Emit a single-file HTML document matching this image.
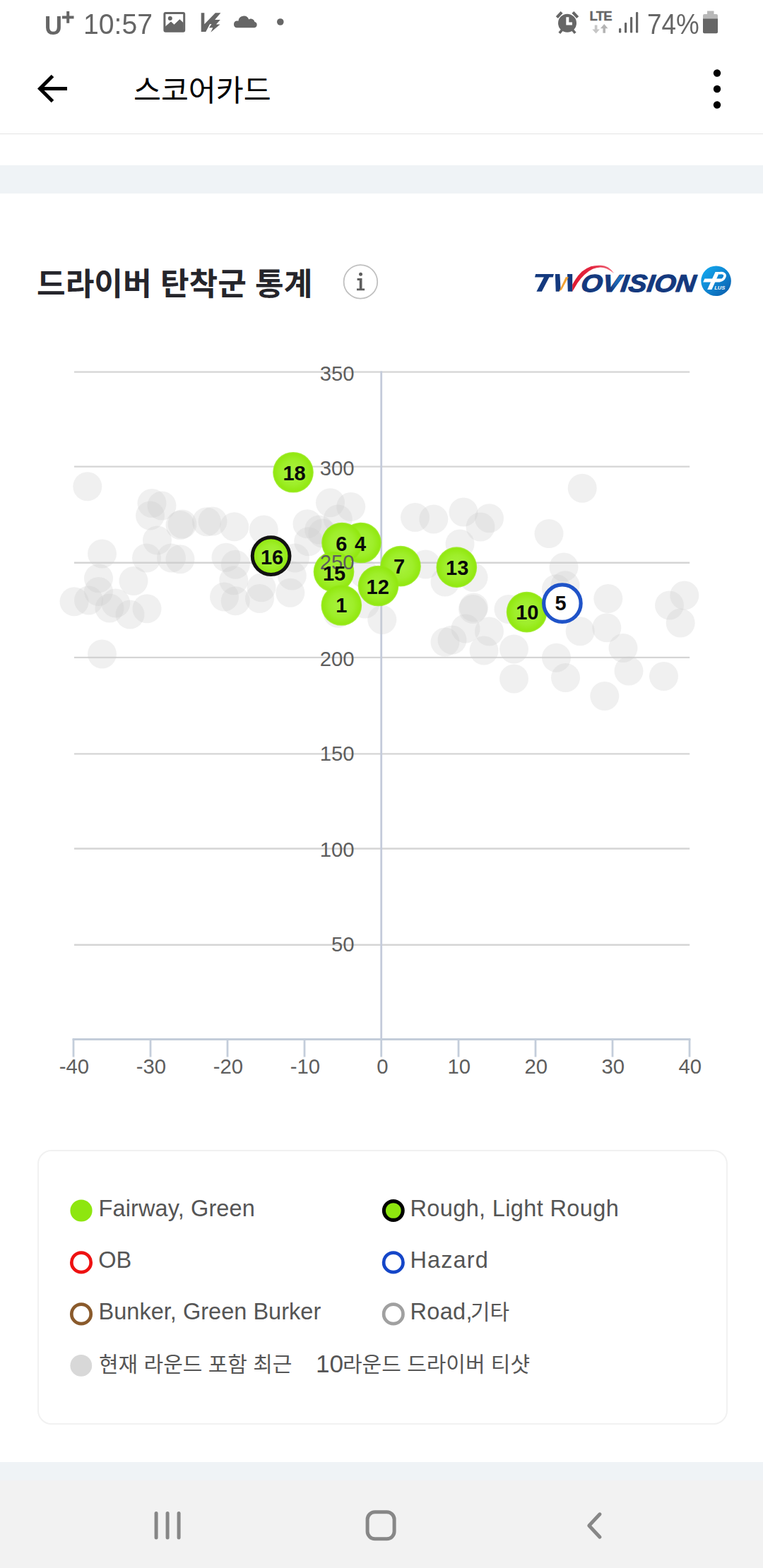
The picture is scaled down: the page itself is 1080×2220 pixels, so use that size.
<!DOCTYPE html>
<html lang="ko">
<head>
<meta charset="utf-8">
<title>스코어카드</title>
<style>
html,body{margin:0;padding:0;}
body{width:1080px;height:2220px;position:relative;overflow:hidden;background:#fff;
 font-family:"Liberation Sans",sans-serif;color:#555;}
.abs{position:absolute;}
.inl{display:inline-block;vertical-align:top;}
svg{display:block;overflow:visible;}
svg text{font-family:"Liberation Sans",sans-serif;}
.sb{color:#666;position:absolute;white-space:nowrap;line-height:1;}
</style>
</head>
<body>

<!-- status bar -->
<div id="statusbar" class="abs" style="left:0;top:0;width:1080px;height:66px;background:#fff;">
  <div class="sb" style="left:63.300px;top:18.700px;font-size:36px;font-weight:bold;transform:scaleX(0.960);transform-origin:0 0;">U</div>
  
  <div class="sb" style="left:117.600px;top:13.500px;font-size:40px;transform:scaleX(0.978);transform-origin:0 0;">10:57</div>
  <svg class="abs" style="left:0;top:0" width="1080" height="66" viewBox="0 0 1080 66">
    <!-- plus -->
    <path fill="#666" d="M88 22.400h6.200v-6.300h4v6.300h6.300v4h-6.300v6.400h-4v-6.400h-6.200z"/>
    <!-- picture icon -->
    <g fill="#666">
      <path fill-rule="evenodd" d="M234.400 17h24.800a3 3 0 0 1 3 3v22.800a3 3 0 0 1 -3 3h-24.800a3 3 0 0 1 -3 -3v-22.800a3 3 0 0 1 3 -3zM234.400 20v21.500h24.800v-21.500z"/>
      <circle cx="240.800" cy="26.100" r="3"/>
      <path d="M234 43v-5.500l8 -7 4.500 4.200 7.800 -7.500 5.300 5v11z"/>
    </g>
    <!-- V bolt icon -->
    <path fill="#666" d="M284.700 18.200h4.600v16l15.500 -16h7.600l-8.300 9.700h7.700l-5.900 6.700h5.600l-13.200 11.200 3 -6.500h-5.300l3.500 -5.300h-2.400l-5.800 11.100h-6.600z"/>
    <!-- cloud -->
    <path fill="#666" d="M335.500 39.300a4.900 4.900 0 0 1 -0.500 -9.700a4.900 4.900 0 0 1 2.400 0.100a7.700 7.700 0 0 1 14.800 -2.300a5.600 5.600 0 0 1 8.300 3.500a4.300 4.300 0 0 1 -0.500 8.400z"/>
    <circle cx="396.800" cy="31" r="4.800" fill="#666"/>
    <!-- alarm -->
    <g fill="#666">
      <circle cx="803" cy="32.800" r="13"/>
      <path d="M786.800 23.200l6.800 -7.200 3 2.800 -6.800 7.200zM819.200 23.200l-6.800 -7.200 -3 2.800 6.800 7.200z"/>
      <path d="M794 41.500l2.800 2.200 -3.600 4.200 -2.800 -2.200zM812 41.500l-2.800 2.200 3.600 4.200 2.800 -2.200z"/>
    </g>
    <path d="M803.300 24.300v9.300h6.600" fill="none" stroke="#fff" stroke-width="4"/>
    <!-- LTE arrows -->
    <path fill="#c6c6c6" d="M841.800 35.500h3.600v6h3.500l-5.300 5.900 -5.300 -5.900h3.500z"/>
    <path fill="#b4b4b4" d="M853.400 46.800h3.600v-6.500h3.500l-5.300 -6.400 -5.300 6.400h3.500z"/>
    <!-- signal -->
    <g fill="#666">
      <rect x="876" y="40" width="3.200" height="6.500" rx="1.200"/>
      <rect x="884" y="32" width="3.200" height="14.500" rx="1.200"/>
      <rect x="892" y="24" width="3.200" height="22.500" rx="1.200"/>
      <rect x="900" y="17" width="3.200" height="29.500" rx="1.200"/>
    </g>
    <!-- battery -->
    <path fill="#b8b8b8" d="M1001 15.500h9.500v4.500h3.500a2 2 0 0 1 2 2v5h-21v-5a2 2 0 0 1 2 -2h4z"/>
    <path fill="#666" d="M995 26.500h21v18.800a2 2 0 0 1 -2 2h-17a2 2 0 0 1 -2 -2z"/>
  </svg>
  <div class="sb" style="left:834.500px;top:13.500px;font-size:18.500px;font-weight:bold;letter-spacing:-0.700px;-webkit-text-stroke:0.400px #666;">LTE</div>
  <div class="sb" style="left:916.300px;top:13.500px;font-size:40px;transform:scaleX(0.920);transform-origin:0 0;">74%</div>
</div>

<!-- toolbar -->
<div id="toolbar" class="abs" style="left:0;top:66px;width:1080px;height:123px;background:#fff;border-bottom:1px solid #e4e4e4;"></div>
<svg class="abs" style="left:0;top:66px" width="1080" height="124" viewBox="0 66 1080 124">
  <path d="M95 125.500H57M74.500 107.500L56.500 125.500L74.500 143.500" fill="none" stroke="#000" stroke-width="5" stroke-linecap="butt" stroke-linejoin="miter"/>
  <circle cx="1015" cy="103.500" r="5.200" fill="#000"/>
  <circle cx="1015" cy="126" r="5.200" fill="#000"/>
  <circle cx="1015" cy="148.500" r="5.200" fill="#000"/>
</svg>
<svg class="abs" style="left:189px;top:92.5px" width="260" height="70" viewBox="0 0 260 70" role="img" aria-label="스코어카드"><title>스코어카드</title><text x="0" y="50" font-size="42.3" fill="#000" style="font-family:'Liberation Sans','Noto Sans CJK KR',sans-serif;">스코어카드</text></svg>
<div class="abs" style="left:0;top:234px;width:1080px;height:40px;background:#eff3f6;"></div>

<!-- heading -->
<svg class="abs" style="left:52px;top:365px" width="460" height="70" viewBox="0 0 460 70" role="img" aria-label="드라이버 탄착군 통계"><title>드라이버 탄착군 통계</title><text x="0" y="52.500" font-size="44.200" font-weight="bold" fill="#25252b" style="font-family:'Liberation Sans','Noto Sans CJK KR',sans-serif;">드라이버 탄착군 통계</text></svg>
<svg class="abs" style="left:480px;top:370px" width="60" height="60" viewBox="480 370 60 60" role="img" aria-label="i">
  <circle cx="510.400" cy="398.900" r="23.800" fill="#fff" stroke="#c0c0c0" stroke-width="1.800"/>
  <g fill="#5e5e5e">
    <circle cx="510.500" cy="388.300" r="2.500"/>
    <path d="M505.600 394h6.900v14.400h3.600v2.900h-11.100v-2.900h3.800v-11.500h-3.200z"/>
  </g>
</svg>
<!-- logo -->
<svg class="abs" style="left:740px;top:360px" width="320" height="80" viewBox="740 360 320 80" role="img" aria-label="TWOVISION Plus">
  <defs>
    <linearGradient id="lgR" gradientUnits="userSpaceOnUse" x1="810" y1="412" x2="868" y2="380">
      <stop offset="0" stop-color="#de1a30"/><stop offset="0.600" stop-color="#e3263f"/><stop offset="1" stop-color="#ef6a7c"/>
    </linearGradient>
    <linearGradient id="lgB" x1="0.1" y1="0.1" x2="0.9" y2="0.9">
      <stop offset="0" stop-color="#13a6ec"/><stop offset="0.5" stop-color="#0f86d2"/><stop offset="1" stop-color="#0c62b0"/>
    </linearGradient>
  </defs>
  <g fill="#14397e">
    <path d="M758.200 388h25.700l-1.200 4.500h-5.300l-10.500 20.200h-7.500l10.500 -20.200h-12.900z"/>
    <path d="M785.900 388h6.500l1.200 21.700l-2.100 3h-4.800z"/>
    <path d="M803 388h7.200v24.700h-6.400z"/>
  </g>
  <path fill="#f2a132" d="M791.300 412.600L800.800 392.200h4L795 410.300z"/>
  <path fill="url(#lgR)" d="M810.200 412.700L817.400 400.700Q822 394 827 389.300Q833 383.500 839.100 380.800Q844.500 378.600 849.900 378.400Q854.500 378.600 858.300 380.200Q864 382.600 869.200 386.900Q865 381 860.700 378.400Q855.500 375.600 849.900 375.800Q843 375.400 836.200 377.300Q829 380 823.600 384.600Q818.500 389.500 814.600 395.500Q812 399.500 810.200 403z"/>
  <text transform="translate(821.300 412.600) skewX(-7) scale(1.130 1)" font-size="34.500" font-weight="bold" font-style="italic" fill="#14397e" stroke="#14397e" stroke-width="1.100" stroke-linejoin="round">OVISION</text>
  <defs><clipPath id="tc"><text transform="translate(821.300 412.600) skewX(-7) scale(1.130 1)" font-size="34.500" font-weight="bold" font-style="italic">OVISION</text></clipPath><linearGradient id="lgV" x1="0" y1="1" x2="0" y2="0"><stop offset="0" stop-color="#14397e"/><stop offset="0.45" stop-color="#1a62b0"/><stop offset="1" stop-color="#1c78c6"/></linearGradient></defs>
  <path clip-path="url(#tc)" fill="url(#lgV)" d="M876 387.500h10.500l-14.700 25.500h-5l-0.500 -7z"/>
  <circle cx="1013.600" cy="397.800" r="21.300" fill="url(#lgB)"/>
  <path fill="#fff" d="M1012.500 385h6l-11 25h-6.300z"/>
  <path fill="#fff" d="M997.400 394.400H1021.500l-2.200 5H995.200z"/>
  <path fill="none" stroke="#fff" stroke-width="3.600" d="M1017.300 386.900C1024 385.600 1027.500 388.200 1025.500 392.600C1024 396 1021.500 397.300 1018 397.300"/>
  <text x="1011.300" y="410.300" font-size="6.800" font-weight="bold" font-style="italic" fill="#fff" textLength="15" lengthAdjust="spacingAndGlyphs">LUS</text>
</svg>

<!-- chart -->
<svg id="chart" class="abs" style="left:0;top:480px" width="1080" height="1080" viewBox="0 480 1080 1080">
<defs><radialGradient id="gg" cx="0.5" cy="0.5" r="0.5"><stop offset="0" stop-color="#a9f240"/><stop offset="0.6" stop-color="#9eee2a"/><stop offset="0.93" stop-color="#92e810"/><stop offset="1" stop-color="#94e916" stop-opacity="0.8"/></radialGradient></defs>
<g stroke="#d5d5d5" stroke-width="2.4">
<line x1="105" y1="526.60" x2="976.2" y2="526.60"/>
<line x1="105" y1="660.60" x2="976.2" y2="660.60"/>
<line x1="105" y1="796.80" x2="976.2" y2="796.80"/>
<line x1="105" y1="930.90" x2="976.2" y2="930.90"/>
<line x1="105" y1="1067.40" x2="976.2" y2="1067.40"/>
<line x1="105" y1="1201.50" x2="976.2" y2="1201.50"/>
<line x1="105" y1="1337.70" x2="976.2" y2="1337.70"/>
</g>
<g stroke="#c4cbda" stroke-width="2.8" fill="none">
<line x1="539.7" y1="525.5" x2="539.7" y2="1471"/>
</g>
<g stroke="#c3cdda" stroke-width="2.800" fill="none">
<line x1="102.6" y1="1471.5" x2="977.4" y2="1471.5"/>
<line x1="104" y1="1471" x2="104" y2="1496.5"/>
<line x1="213" y1="1471" x2="213" y2="1496.5"/>
<line x1="322" y1="1471" x2="322" y2="1496.5"/>
<line x1="431" y1="1471" x2="431" y2="1496.5"/>
<line x1="539.7" y1="1471" x2="539.7" y2="1496.5"/>
<line x1="649" y1="1471" x2="649" y2="1496.5"/>
<line x1="758" y1="1471" x2="758" y2="1496.5"/>
<line x1="867" y1="1471" x2="867" y2="1496.5"/>
<line x1="976" y1="1471" x2="976" y2="1496.5"/>
</g>
<g fill="#cacaca" fill-opacity="0.29">
<circle cx="123.8" cy="688.8" r="20.5"/>
<circle cx="215.0" cy="712.5" r="20.5"/>
<circle cx="229.0" cy="716.0" r="20.5"/>
<circle cx="212.5" cy="730.0" r="20.5"/>
<circle cx="255.0" cy="743.5" r="20.5"/>
<circle cx="258.0" cy="742.0" r="20.5"/>
<circle cx="292.5" cy="738.8" r="20.5"/>
<circle cx="301.0" cy="738.0" r="20.5"/>
<circle cx="222.5" cy="765.0" r="20.5"/>
<circle cx="144.5" cy="784.0" r="20.5"/>
<circle cx="207.5" cy="790.0" r="20.5"/>
<circle cx="242.5" cy="790.0" r="20.5"/>
<circle cx="255.0" cy="791.8" r="20.5"/>
<circle cx="139.5" cy="818.8" r="20.5"/>
<circle cx="189.0" cy="822.5" r="20.5"/>
<circle cx="139.5" cy="837.5" r="20.5"/>
<circle cx="105.0" cy="851.8" r="20.5"/>
<circle cx="125.500" cy="850.0" r="20.5"/>
<circle cx="163.8" cy="854.0" r="20.5"/>
<circle cx="155.0" cy="861.0" r="20.5"/>
<circle cx="184.0" cy="870.0" r="20.5"/>
<circle cx="208.0" cy="861.8" r="20.5"/>
<circle cx="144.5" cy="926.0" r="20.5"/>
<circle cx="331.7" cy="745.8" r="20.5"/>
<circle cx="373.3" cy="750.0" r="20.5"/>
<circle cx="320.0" cy="789.2" r="20.5"/>
<circle cx="333.3" cy="799.2" r="20.5"/>
<circle cx="330.8" cy="821.7" r="20.5"/>
<circle cx="317.5" cy="845.0" r="20.5"/>
<circle cx="333.3" cy="850.8" r="20.5"/>
<circle cx="370.0" cy="831.7" r="20.5"/>
<circle cx="367.5" cy="847.5" r="20.5"/>
<circle cx="410.8" cy="839.2" r="20.5"/>
<circle cx="413.3" cy="815.0" r="20.5"/>
<circle cx="417.5" cy="790.0" r="20.5"/>
<circle cx="435.0" cy="741.7" r="20.5"/>
<circle cx="436.7" cy="766.7" r="20.5"/>
<circle cx="456.7" cy="755.0" r="20.5"/>
<circle cx="467.5" cy="711.7" r="20.5"/>
<circle cx="496.7" cy="717.5" r="20.5"/>
<circle cx="478.3" cy="735.0" r="20.5"/>
<circle cx="451.7" cy="750.0" r="20.5"/>
<circle cx="540.8" cy="877.5" r="20.5"/>
<circle cx="478.3" cy="868.3" r="20.5"/>
<circle cx="515.0" cy="811.7" r="20.5"/>
<circle cx="516.7" cy="855.0" r="20.5"/>
<circle cx="587.5" cy="732.5" r="20.5"/>
<circle cx="613.8" cy="735.0" r="20.5"/>
<circle cx="656.0" cy="725.0" r="20.5"/>
<circle cx="692.5" cy="733.8" r="20.5"/>
<circle cx="680.0" cy="746.0" r="20.5"/>
<circle cx="651.0" cy="770.0" r="20.5"/>
<circle cx="602.5" cy="799.0" r="20.5"/>
<circle cx="670.0" cy="817.5" r="20.5"/>
<circle cx="630.0" cy="824.0" r="20.5"/>
<circle cx="670.5" cy="860.0" r="20.5"/>
<circle cx="669.5" cy="862.5" r="20.5"/>
<circle cx="720.0" cy="862.5" r="20.5"/>
<circle cx="659.0" cy="890.0" r="20.5"/>
<circle cx="692.5" cy="894.0" r="20.5"/>
<circle cx="630.0" cy="909.0" r="20.5"/>
<circle cx="640.0" cy="906.0" r="20.5"/>
<circle cx="685.0" cy="921.0" r="20.5"/>
<circle cx="727.5" cy="919.0" r="20.5"/>
<circle cx="727.5" cy="961.0" r="20.5"/>
<circle cx="824.2" cy="691.2" r="20.5"/>
<circle cx="777.0" cy="755.5" r="20.5"/>
<circle cx="798.0" cy="803.0" r="20.5"/>
<circle cx="800.0" cy="828.8" r="20.5"/>
<circle cx="787.5" cy="833.8" r="20.5"/>
<circle cx="860.8" cy="847.5" r="20.5"/>
<circle cx="858.8" cy="888.8" r="20.5"/>
<circle cx="821.2" cy="893.8" r="20.5"/>
<circle cx="882.0" cy="917.5" r="20.5"/>
<circle cx="787.5" cy="931.2" r="20.5"/>
<circle cx="800.5" cy="959.5" r="20.5"/>
<circle cx="890.0" cy="950.0" r="20.5"/>
<circle cx="939.5" cy="957.5" r="20.5"/>
<circle cx="855.8" cy="985.5" r="20.5"/>
<circle cx="947.5" cy="857.0" r="20.5"/>
<circle cx="968.8" cy="843.0" r="20.5"/>
<circle cx="963.2" cy="882.0" r="20.5"/>
</g>
<circle cx="415" cy="668.75" r="28.85" fill="url(#gg)"/>
<circle cx="383.6" cy="787.1" r="26.35" fill="url(#gg)" stroke="#121212" stroke-width="5"/>
<circle cx="511" cy="768.5" r="28.85" fill="url(#gg)"/>
<circle cx="484" cy="768.5" r="28.85" fill="url(#gg)"/>
<circle cx="472.5" cy="809.5" r="28.85" fill="url(#gg)"/>
<circle cx="567" cy="801.7" r="28.85" fill="url(#gg)"/>
<circle cx="646.3" cy="803.2" r="28.85" fill="url(#gg)"/>
<circle cx="535.5" cy="829.5" r="28.85" fill="url(#gg)"/>
<circle cx="483.3" cy="857" r="28.85" fill="url(#gg)"/>
<circle cx="745.6" cy="866.6" r="28.85" fill="url(#gg)"/>
<circle cx="795.9" cy="854.2" r="26.25" fill="#fff" stroke="#1f53c8" stroke-width="5.2"/>
<g font-size="30.2" fill="#5e5e5e" text-anchor="end">
<text transform="translate(501.6 538.80) scale(0.97 1)">350</text>
<text transform="translate(501.6 673.45) scale(0.97 1)">300</text>
<text transform="translate(501.6 805.85) scale(0.97 1)">250</text>
<text transform="translate(501.6 943.00) scale(0.97 1)">200</text>
<text transform="translate(501.6 1077.15) scale(0.97 1)">150</text>
<text transform="translate(501.6 1212.95) scale(0.97 1)">100</text>
<text transform="translate(501.6 1347.05) scale(0.97 1)">50</text>
</g>
<g font-size="30.2" fill="#5e5e5e" text-anchor="middle">
<text transform="translate(104.8 1520) scale(0.97 1)">-40</text>
<text transform="translate(213.8 1520) scale(0.97 1)">-30</text>
<text transform="translate(322.8 1520) scale(0.97 1)">-20</text>
<text transform="translate(431.8 1520) scale(0.97 1)">-10</text>
<text transform="translate(541.3 1520) scale(0.97 1)">0</text>
<text transform="translate(649.8 1520) scale(0.97 1)">10</text>
<text transform="translate(758.8 1520) scale(0.97 1)">20</text>
<text transform="translate(867.8 1520) scale(0.97 1)">30</text>
<text transform="translate(976.8 1520) scale(0.97 1)">40</text>
</g>
<g font-size="30.2" font-weight="bold" fill="#0a0a0a" text-anchor="middle">
<text transform="translate(416.5 680.0) scale(0.96 1)">18</text>
<text transform="translate(385.1 798.7) scale(0.96 1)">16</text>
<text transform="translate(510.0 779.7) scale(0.96 1)">4</text>
<text transform="translate(483.3 779.7) scale(0.96 1)">6</text>
<text transform="translate(473.0 821.5) scale(0.96 1)">15</text>
<text transform="translate(565.0 812.4) scale(0.96 1)">7</text>
<text transform="translate(647.2 814.2) scale(0.96 1)">13</text>
<text transform="translate(534.7 840.9) scale(0.96 1)">12</text>
<text transform="translate(483.3 867.4) scale(0.96 1)">1</text>
<text transform="translate(746.3 877.3) scale(0.96 1)">10</text>
<text transform="translate(793.5 863.6) scale(0.96 1)">5</text>
</g>
</svg>
<!-- legend -->
<style>
#legend{left:52.700px;top:1628px;width:973.400px;height:385.200px;border:2px solid #f1f1f1;border-radius:20px;box-sizing:content-box;}
.li{position:absolute;height:50px;line-height:50px;font-size:32.500px;color:#555;white-space:nowrap;}
</style>
<div id="legend" class="abs"></div>
<svg class="abs" style="left:90px;top:1690px" width="500" height="270" viewBox="90 1690 500 270">
  <circle cx="115" cy="1714" r="15.600" fill="#8ee60f"/>
  <circle cx="556.800" cy="1714" r="13.400" fill="#8ee60f" stroke="#000" stroke-width="5.100"/>
  <circle cx="115" cy="1787.400" r="13.700" fill="none" stroke="#ee1111" stroke-width="4.700"/>
  <circle cx="556.800" cy="1787.400" r="13.700" fill="none" stroke="#1546c8" stroke-width="4.700"/>
  <circle cx="115" cy="1860.400" r="13.700" fill="none" stroke="#8a5a2b" stroke-width="4.700"/>
  <circle cx="556.800" cy="1860.400" r="13.700" fill="none" stroke="#a0a0a0" stroke-width="4.700"/>
  <circle cx="114.800" cy="1933.400" r="15.400" fill="#d8d8d8"/>
</svg>
<div id="l1" class="li" style="left:139.500px;top:1686.300px;letter-spacing:0.120px;">Fairway, Green</div>
<div id="l2" class="li" style="left:580.500px;top:1686.300px;letter-spacing:0.360px;">Rough, Light Rough</div>
<div id="l3" class="li" style="left:139.300px;top:1759.300px;letter-spacing:0px;">OB</div>
<div id="l4" class="li" style="left:580.500px;top:1759.300px;letter-spacing:1.100px;">Hazard</div>
<div id="l5" class="li" style="left:139.500px;top:1832.300px;letter-spacing:0.020px;">Bunker, Green Burker</div>
<div id="l6" class="li" style="left:580.500px;top:1832.300px;letter-spacing:0.300px;">Road,</div>
<div class="abs" style="left:665.500px;top:1834.300px;"><svg class="inl" width="80" height="50" viewBox="0 0 80 50" role="img" aria-label="기타"><title>기타</title><text x="0" y="33.500" font-size="30" fill="#555" style="font-family:'Liberation Sans','Noto Sans CJK KR',sans-serif;">기타</text></svg></div>
<div class="abs" style="left:139.500px;top:1907.500px;"><svg class="inl" width="310" height="50" viewBox="0 0 310 50" role="img" aria-label="현재 라운드 포함 최근 "><title>현재 라운드 포함 최근 </title><text x="0" y="33.500" font-size="30" fill="#555" style="font-family:'Liberation Sans','Noto Sans CJK KR',sans-serif;">현재 라운드 포함 최근</text></svg></div>
<div id="l7" class="li" style="left:446.900px;top:1905.800px;font-size:35.200px;">10</div>
<div class="abs" style="left:484.500px;top:1907.500px;"><svg class="inl" width="300" height="50" viewBox="0 0 300 50" role="img" aria-label="라운드 드라이버 티샷"><title>라운드 드라이버 티샷</title><text x="0" y="33.500" font-size="30" fill="#555" style="font-family:'Liberation Sans','Noto Sans CJK KR',sans-serif;">라운드 드라이버 티샷</text></svg></div>

<!-- bottom -->
<div class="abs" style="left:0;top:2070px;width:1080px;height:150px;background:#eff3f6;"></div>
<div id="navbar" class="abs" style="left:0;top:2096px;width:1080px;height:124px;background:#f2f2f2;"></div>
<svg class="abs" style="left:0;top:2096px" width="1080" height="124" viewBox="0 2096 1080 124">
  <g fill="none" stroke="#878787" stroke-width="5" stroke-linecap="round">
    <line x1="221.100" y1="2142.600" x2="221.100" y2="2177"/>
    <line x1="237.100" y1="2142.600" x2="237.100" y2="2177"/>
    <line x1="253.100" y1="2142.600" x2="253.100" y2="2177"/>
    <rect x="520.100" y="2140.800" width="38" height="38" rx="10.500"/>
    <path d="M849 2143.800L833.800 2160L849 2176.200" stroke-linejoin="round"/>
  </g>
</svg>

</body></html>
